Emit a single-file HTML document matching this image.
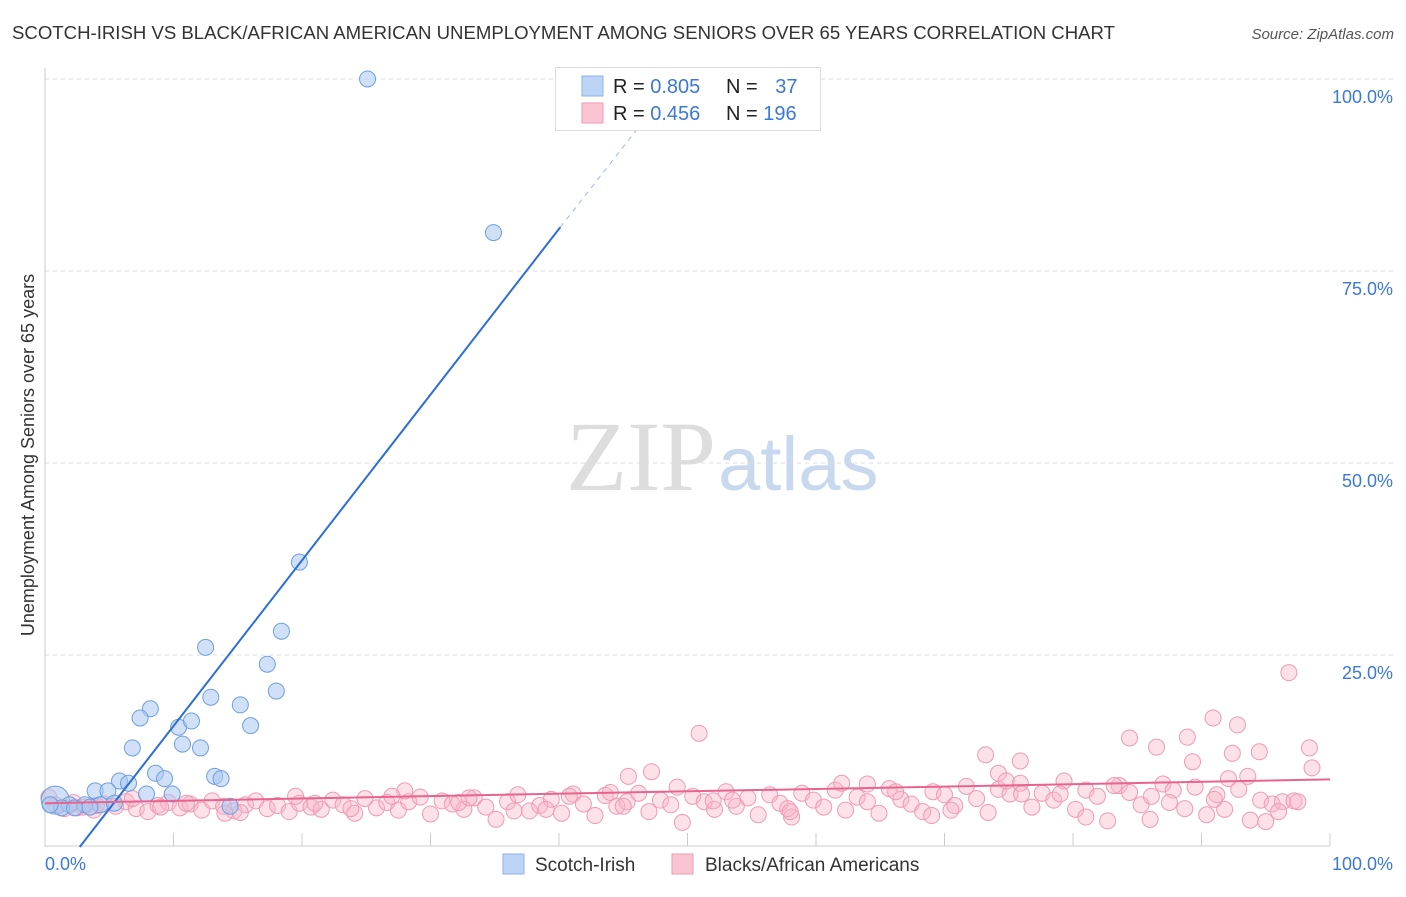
<!DOCTYPE html>
<html><head><meta charset="utf-8"><style>
body{margin:0;background:#fff;font-family:"Liberation Sans",sans-serif;}
svg text{font-family:"Liberation Sans",sans-serif;}
</style></head><body>
<svg id="chart" width="1406" height="892" xmlns="http://www.w3.org/2000/svg">
<text x="12" y="39" font-size="18" fill="#333" textLength="1103" lengthAdjust="spacingAndGlyphs">SCOTCH-IRISH VS BLACK/AFRICAN AMERICAN UNEMPLOYMENT AMONG SENIORS OVER 65 YEARS CORRELATION CHART</text>
<text x="1394" y="39" font-size="15" fill="#555" font-style="italic" text-anchor="end">Source: ZipAtlas.com</text>
<text x="716" y="490" font-size="100" fill="#ddd" text-anchor="end" style="font-family:'Liberation Serif',serif">ZIP</text>
<text x="718" y="490" font-size="76" fill="#c8d8ee">atlas</text>
<g id="grid"></g>
<g id="axes"></g>
<g id="pink"></g>
<g id="blue"></g>
<g id="lines"></g>
<text transform="translate(34,455) rotate(-90)" font-size="18" fill="#333" text-anchor="middle">Unemployment Among Seniors over 65 years</text>
<g>
<rect x="555.5" y="67.5" width="265" height="63" fill="#fff" stroke="#ddd"/>
<rect x="582" y="76" width="21" height="20" fill="#bcd4f6" stroke="#8fb2e6"/>
<rect x="582" y="103" width="21" height="20" fill="#fbc4d3" stroke="#f09ab3"/>
<text x="613" y="93" font-size="20" fill="#222">R = <tspan fill="#3b78d8">0.805</tspan></text>
<text x="726" y="93" font-size="20" fill="#222">N = <tspan fill="#3b78d8" dx="12">37</tspan></text>
<text x="613" y="120" font-size="20" fill="#222">R = <tspan fill="#3b78d8">0.456</tspan></text>
<text x="726" y="120" font-size="20" fill="#222">N = <tspan fill="#3b78d8">196</tspan></text>
</g>
<g>
<rect x="503" y="854" width="21" height="20" fill="#bcd4f6" stroke="#8fb2e6"/>
<text x="535" y="871" font-size="19" fill="#333">Scotch-Irish</text>
<rect x="672" y="854" width="21" height="20" fill="#fbc4d3" stroke="#f09ab3"/>
<text x="705" y="871" font-size="19" fill="#333">Blacks/African Americans</text>
</g>
</svg>
<script>
const blueX=[0.8,25.1,34.9,19.8,18.4,12.5,17.3,18.0,15.2,12.9,8.2,7.4,10.4,11.4,16.0,6.8,10.7,12.1,8.6,9.3,13.2,13.7,5.8,6.5,3.9,4.9,7.9,9.9,1.9,3.1,4.3,5.4,1.3,2.3,14.4,0.4,3.5];
const blueY=[6.1,100,80,37.1,28.1,26.0,23.8,20.3,18.5,19.5,18.0,16.8,15.6,16.4,15.8,12.9,13.4,12.9,9.6,8.9,9.2,8.9,8.6,8.3,7.3,7.3,6.9,6.9,5.5,5.5,5.5,5.7,5.1,5.1,5.3,5.5,5.2];
const pinkX=[96.8,90.9,92.8,50.9,84.4,88.9,86.5,98.4,92.4,94.5,73.2,75.9,89.3,47.2,45.4,98.6,74.2,93.6,
0.3,0.8,1.5,2.2,3.0,3.8,4.6,5.5,6.3,7.1,8.0,8.8,9.6,10.5,11.3,12.2,13.0,13.9,14.7,15.6,16.4,17.3,18.1,19.0,19.8,20.7,21.5,22.4,23.2,24.1,24.9,25.8,26.6,27.5,28.3,29.2,30.0,30.9,31.7,32.6,33.4,34.3,35.1,36.0,36.8,37.7,38.5,39.4,40.2,41.1,41.9,42.8,43.6,44.5,45.3,46.2,47.0,47.9,48.7,49.6,50.4,51.3,52.1,53.0,53.8,54.7,55.5,56.4,57.2,58.1,58.9,59.8,60.6,61.5,62.3,63.2,64.0,64.9,65.7,66.6,67.4,68.3,69.1,70.0,70.8,71.7,72.5,73.4,74.2,75.1,75.9,76.8,77.6,78.5,79.3,80.2,81.0,81.9,82.7,83.6,84.4,85.3,86.1,87.0,87.8,88.7,89.5,90.4,91.2,92.1,92.9,93.8,94.6,95.5,96.3,97.2,
2.5,6.8,11.0,15.2,19.5,23.8,28.0,32.2,36.5,40.8,45.0,49.2,53.5,57.8,62.0,66.2,70.5,74.8,79.0,83.2,87.5,91.8,96.0,
4.0,9.0,14.0,21.0,27.0,33.0,39.0,44.0,52.0,58.0,64.0,69.0,76.0,81.0,86.0,91.0,95.0,97.5];
const pinkY=[22.7,16.8,15.9,14.8,14.2,14.3,13.0,12.9,12.2,12.4,12.0,11.2,11.1,9.8,9.2,10.3,9.6,9.2,
6.5,5.5,5.0,5.8,5.2,4.8,5.6,5.3,5.9,5.0,4.6,5.4,5.8,5.1,5.6,4.8,6.0,5.3,4.7,5.5,6.0,5.0,5.4,4.6,5.7,5.2,4.9,6.1,5.5,4.4,6.3,5.1,5.8,4.8,5.9,6.5,4.3,6.0,5.6,4.9,6.4,5.2,3.6,5.9,6.8,4.7,5.4,6.2,4.4,6.9,5.6,4.1,6.7,5.3,5.9,7.0,4.6,6.1,5.5,3.2,6.6,5.9,4.9,7.2,5.3,6.4,4.2,6.8,5.7,3.9,7.0,6.1,5.2,7.4,4.8,6.5,5.9,4.4,7.6,6.2,5.6,4.6,7.2,6.8,5.4,7.9,6.3,4.5,7.5,6.9,8.3,5.2,7.0,6.1,8.6,4.9,7.4,6.6,3.4,8.0,7.1,5.5,6.6,8.2,7.4,5.0,7.8,4.2,6.8,8.9,7.5,3.5,6.1,5.6,
5.9,6.0,5.1,6.3,5.7,4.5,6.6,5.0,7.3,5.8,4.7,6.6,5.3,7.8,6.1,5.0,8.3,7.2,4.8,8.6,6.9,8.0,5.8,
4.9,4.6,5.4,5.2,4.4,5.7,6.6,6.4,4.9,7.1,6.0,4.6,8.2,4.1,6.9,3.9,3.6,6.2,3.3,5.9];
const yTicks=[25,50,75,100];
const yTickLabels=["25.0%","50.0%","75.0%","100.0%"];
const xTicks=[0,10,20,30,40,50,60,70,80,90,100];
const blueTrend=[2.7,0,40.1,80.7,46.0,93.3];
const pinkTrend=[0,5.7,100,8.8];

const X0=45,X1=1330,Y0=847,Y1=79;
const sx=v=>X0+(X1-X0)*v/100, sy=v=>Y0-(Y0-Y1)*v/100;
const NS="http://www.w3.org/2000/svg";
function mk(tag,parent,attrs){const e=document.createElementNS(NS,tag);for(const k in attrs)e.setAttribute(k,attrs[k]);document.getElementById(parent).appendChild(e);return e;}
yTicks.forEach((t,i)=>{
  const g=mk('line','grid',{x1:X0,x2:1393,y1:sy(t),y2:sy(t),stroke:'#ddd','stroke-dasharray':'4,4'});
  
  
  const tx=mk('text','grid',{x:1393,y:sy(t)+24,'font-size':18,fill:'#3b78d8','text-anchor':'end'});
  tx.textContent=yTickLabels[i];
  
  
});
const ya=mk('line','axes',{x1:X0,x2:X0,y1:68,y2:847,stroke:'#ccc'});


const xa=mk('line','axes',{x1:X0,x2:X1,y1:846,y2:846,stroke:'#ccc'});


xTicks.forEach(t=>{
  const l=mk('line','axes',{x1:sx(t),x2:sx(t),y1:833,y2:846,stroke:'#ccc'});
  
  
});
const xl0=mk('text','axes',{x:45,y:870,'font-size':18,fill:'#3b78d8'});xl0.textContent='0.0%';


const xl1=mk('text','axes',{x:1393,y:870,'font-size':18,fill:'#3b78d8','text-anchor':'end'});xl1.textContent='100.0%';


pinkX.forEach((x,i)=>{
  if(pinkY[i]===undefined)return;
  const c=mk('circle','pink',{cx:sx(x),cy:sy(pinkY[i]),r:8,fill:'rgba(248,180,200,0.4)',stroke:'#f09ab3','stroke-width':1});
  
  
});
blueX.forEach((x,i)=>{
  const c=mk('circle','blue',{cx:sx(x),cy:sy(blueY[i]),r:i===0?14:8,fill:'rgba(170,200,240,0.55)',stroke:'#6f9ee0','stroke-width':1});
  
  
});
const bl=mk('line','lines',{x1:sx(blueTrend[0]),y1:sy(blueTrend[1]),x2:sx(blueTrend[2]),y2:sy(blueTrend[3]),stroke:'#2b6fd6','stroke-width':2});


const bd=mk('line','lines',{x1:sx(blueTrend[2]),y1:sy(blueTrend[3]),x2:sx(blueTrend[4]),y2:sy(blueTrend[5]),stroke:'#9bb9e6','stroke-width':1,'stroke-dasharray':'5,5'});


const pl=mk('line','lines',{x1:sx(pinkTrend[0]),y1:sy(pinkTrend[1]),x2:sx(pinkTrend[2]),y2:sy(pinkTrend[3]),stroke:'#e8638e','stroke-width':2});


</script>
</body></html>
